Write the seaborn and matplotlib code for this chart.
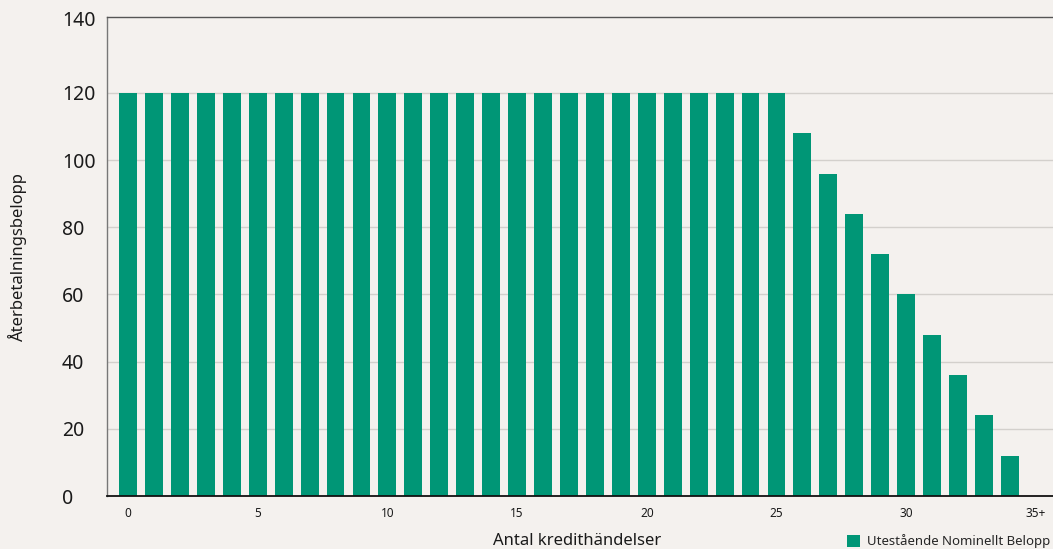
import seaborn as sns
import matplotlib.pyplot as plt
import matplotlib.transforms as mtransforms
import pandas as pd

# data
kredithandelser = list(range(36))
belopp = [120] * 26 + [108, 96, 84, 72, 60, 48, 36, 24, 12, 0]
x_ticks = [0, 5, 10, 15, 20, 25, 30, 35]
x_ticklabels = ['0', '5', '10', '15', '20', '25', '30', '35+']
y_ticks = [0, 20, 40, 60, 80, 100, 120, 140]
serie_namn = 'Utestående Nominellt Belopp'

bg = '#f4f1ee'
green = '#009676'

sns.set_style('white')
plt.rcParams['font.family'] = ['Noto Sans', 'DejaVu Sans']

df = pd.DataFrame({'handelse': [str(k) for k in kredithandelser], 'belopp': belopp})

fig = plt.figure(figsize=(10.53, 5.49), dpi=100, facecolor=bg)
ax = fig.add_axes([0.1016, 0.0965, 0.8984, 0.8725])
ax.set_facecolor(bg)

sns.barplot(data=df, x='handelse', y='belopp', color=green, saturation=1,
            width=0.69, linewidth=0, ax=ax, label=serie_namn, legend=False)

ax.set_xlim(-0.81, 35.66)
ax.set_ylim(0, 142.6)
ax.set_yticks(y_ticks)
ax.set_yticklabels([str(v) for v in y_ticks], fontsize=14, ha='left')
ax.tick_params(axis='y', length=0, pad=32.4, colors='#1a1a1a')
ax.set_xticks(x_ticks)
ax.set_xticklabels(x_ticklabels, fontsize=8.5)
ax.tick_params(axis='x', length=0, pad=8, colors='#1a1a1a')

# top label sits a little higher, next to the top frame line
top_lbl = ax.get_yticklabels()[-1]
top_lbl.set_transform(top_lbl.get_transform() +
                      mtransforms.ScaledTranslation(0, 0.07, fig.dpi_scale_trans))

# gridlines only between 0 and 140
for v in y_ticks[1:-1]:
    ax.axhline(v, color='#d3d0cc', lw=1, zorder=0)

ax.spines['right'].set_visible(False)
ax.spines['left'].set_color('#777777')
ax.spines['top'].set_color('#555555')
ax.spines['bottom'].set_color('#111111')
ax.spines['left'].set_linewidth(1)
ax.spines['top'].set_linewidth(1)
ax.spines['bottom'].set_linewidth(1.3)

ax.set_xlabel('Antal kredithändelser', fontsize=12, color='#1a1a1a')
ax.xaxis.set_label_coords(0.497, -0.093, transform=ax.transAxes)
ax.xaxis.label.set_va('center')
ax.set_ylabel('Återbetalningsbelopp', fontsize=12, color='#1a1a1a')
ax.yaxis.set_label_coords(-0.085, 0.5)

handles, labels = ax.get_legend_handles_labels()
fig.legend(handles[:1], labels[:1], loc='lower right', bbox_to_anchor=(1.007, -0.018),
           frameon=False, fontsize=9.5, handlelength=1.0, handleheight=1.0,
           handletextpad=0.5, borderpad=0.3)

fig.savefig('out.png', dpi=100, facecolor=bg)
